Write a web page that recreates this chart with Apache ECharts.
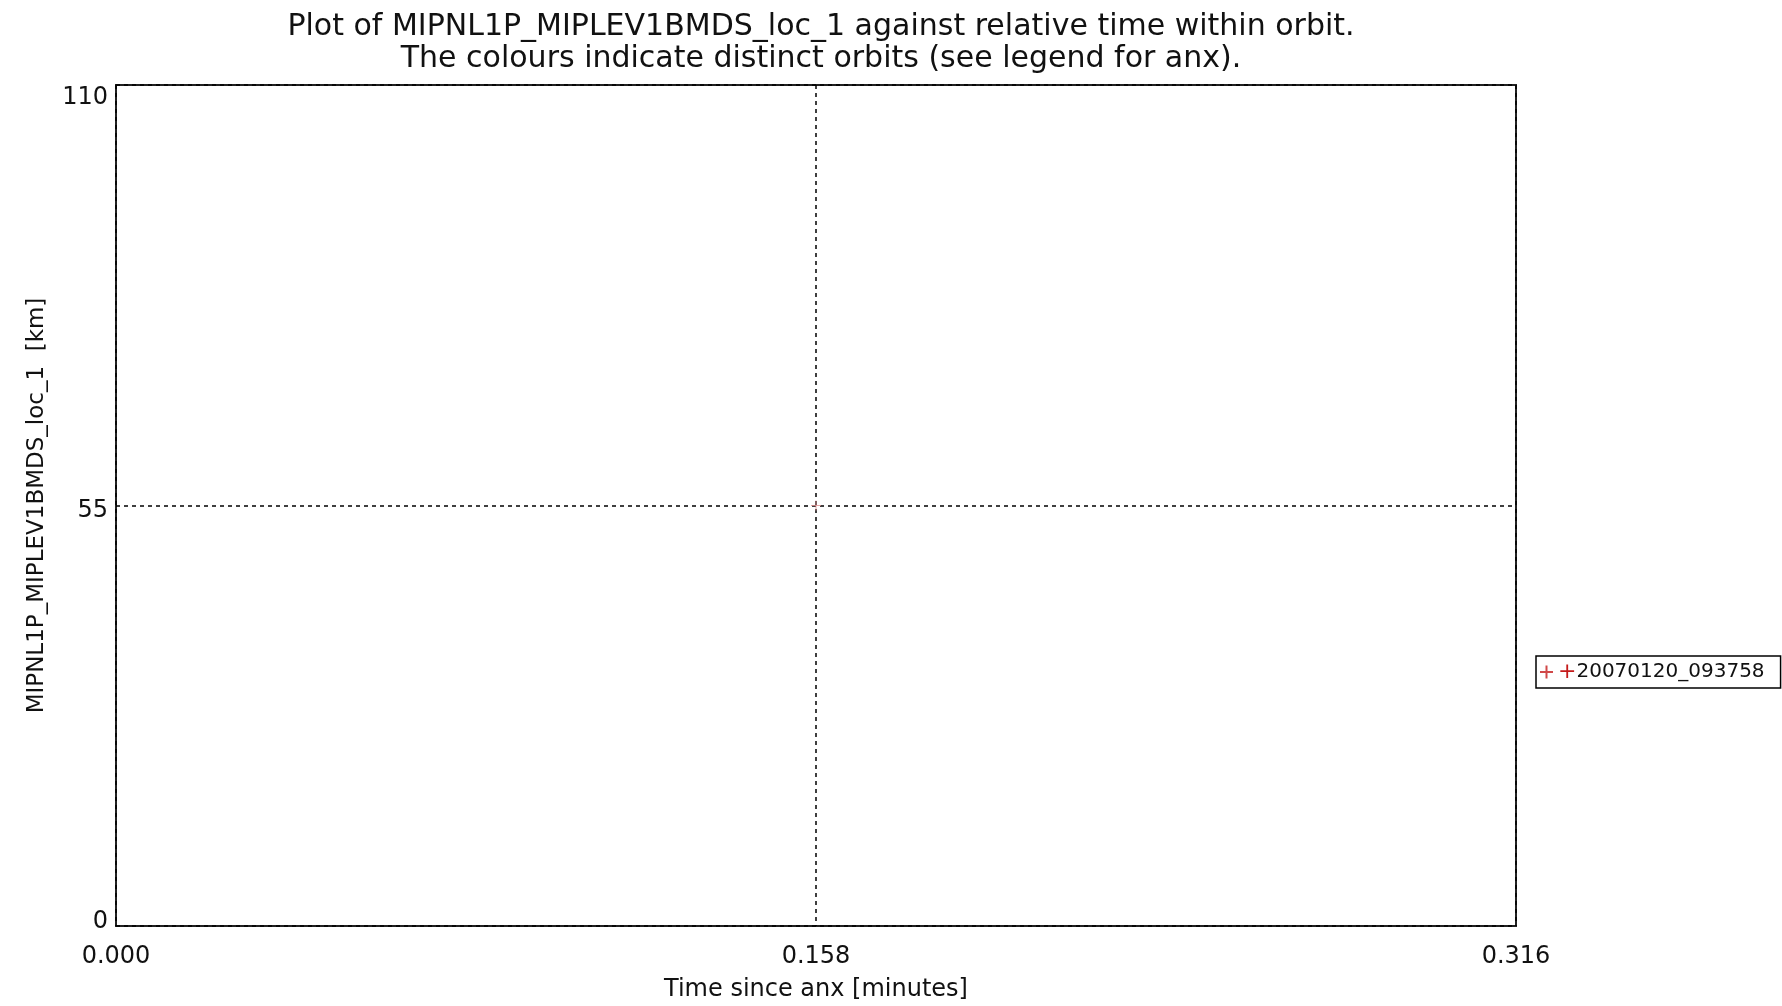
<!DOCTYPE html>
<html>
<head>
<meta charset="utf-8">
<script src="https://cdn.jsdelivr.net/npm/echarts@6/dist/echarts.min.js"></script>
<style>
  html, body { margin: 0; padding: 0; background: #fff; }
  #main { width: 1782px; height: 1006px; }
</style>
</head>
<body>
<div id="main"></div>
<script>
// orbit data (relative time in minutes, value in km)
var orbitNames = ['20070120_093758'];
var timeValues = [0.158];
var locValues = [55];
var xTicks = [0.000, 0.158, 0.316];
var yTicks = [0, 55, 110];

var plusPath = 'path://M0,5L10,5M5,0L5,10';
var font = 'DejaVu Sans';

var chart = echarts.init(document.getElementById('main'));

var option = {
  backgroundColor: '#fff',
  animation: false,
  title: {
    text: 'Plot of MIPNL1P_MIPLEV1BMDS_loc_1 against relative time within orbit.\nThe colours indicate distinct orbits (see legend for anx).',
    left: 816,
    top: 6,
    textAlign: 'center',
    textStyle: {
      fontFamily: font,
      fontWeight: 'normal',
      fontSize: 30,
      lineHeight: 32,
      color: '#111'
    }
  },
  legend: {
    data: [{
      name: orbitNames[0],
      icon: plusPath,
      itemStyle: { color: 'rgba(0,0,0,0)', borderColor: '#c41a1a', borderWidth: 2 }
    }],
    orient: 'vertical',
    left: 1536,
    top: 656,
    itemWidth: 13,
    itemHeight: 13,
    itemGap: 0,
    padding: [5, 16, 5, 3],
    borderColor: '#000',
    borderWidth: 1.5,
    formatter: function (name) {
      return '{p|+}' + name;
    },
    textStyle: {
      fontFamily: font,
      fontSize: 20,
      color: '#111',
      rich: {
        p: { color: '#c41a1a', fontSize: 22, padding: [0, 0, 0, 0] }
      }
    }
  },
  grid: {
    left: 116,
    right: 266,
    top: 85,
    bottom: 80,
    outerBoundsMode: 'none',
    show: true,
    borderColor: '#222',
    borderWidth: 2
  },
  xAxis: {
    type: 'value',
    min: xTicks[0],
    max: xTicks[2],
    interval: xTicks[1] - xTicks[0],
    name: 'Time since anx [minutes]',
    nameLocation: 'middle',
    nameGap: 52,
    nameTextStyle: { fontFamily: font, fontSize: 24, color: '#111' },
    axisLine: { show: false },
    axisTick: { show: false },
    axisLabel: {
      margin: 19,
      fontFamily: font,
      fontSize: 24,
      color: '#111',
      formatter: function (v) { return v.toFixed(3); }
    },
    splitLine: {
      show: true,
      lineStyle: { color: '#000', type: [4, 4], width: 1.5 }
    }
  },
  yAxis: {
    type: 'value',
    min: yTicks[0],
    max: yTicks[2],
    interval: yTicks[1] - yTicks[0],
    name: 'MIPNL1P_MIPLEV1BMDS_loc_1  [km]',
    nameLocation: 'middle',
    nameGap: 67,
    nameTextStyle: { fontFamily: font, fontSize: 23, color: '#111' },
    axisLine: { show: false },
    axisTick: { show: false },
    axisLabel: {
      margin: 8,
      fontFamily: font,
      fontSize: 24,
      color: '#111',
      verticalAlign: 'middle',
      formatter: function (v) {
        if (v === yTicks[2]) return '{top|' + v + '}';
        if (v === yTicks[0]) return '{bot|' + v + '}';
        return '{mid|' + v + '}';
      },
      rich: {
        top: { fontFamily: font, fontSize: 24, color: '#111', padding: [25, 0, 0, 0] },
        mid: { fontFamily: font, fontSize: 24, color: '#111', padding: [11, 0, 0, 0] },
        bot: { fontFamily: font, fontSize: 24, color: '#111', padding: [0, 0, 9, 0] }
      }
    },
    splitLine: {
      show: true,
      lineStyle: { color: '#000', type: [4, 4], width: 1.5 }
    }
  },
  series: [{
    name: orbitNames[0],
    type: 'scatter',
    symbol: plusPath,
    symbolSize: 10,
    itemStyle: { color: 'rgba(0,0,0,0)', borderColor: '#e09090', borderWidth: 1 },
    data: timeValues.map(function (t, i) { return [t, locValues[i]]; }),
    z: 5
  }]
};

chart.setOption(option);
</script>
</body>
</html>
